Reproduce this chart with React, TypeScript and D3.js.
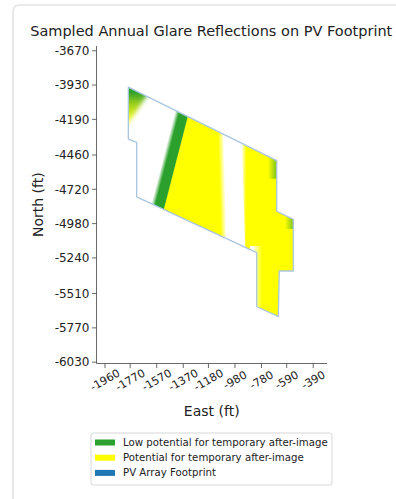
import React from "react";
import * as d3 from "d3";

// ---- Data ----
const E_TICKS = [-1960, -1770, -1570, -1370, -1180, -980, -780, -590, -390];
const N_TICKS = [-3670, -3930, -4190, -4460, -4720, -4980, -5240, -5510, -5770, -6030];

// PV array footprint polygon (East, North in ft)
const FOOT_E = [-1784, -665, -665, -540, -540, -646, -653, -816, -816, -1721, -1721, -1784];
const FOOT_N = [-3946, -4503, -4886, -4948, -5339, -5339, -5683, -5610, -5200, -4777, -4365, -4339];

// Sampled glare bands: north range, east bounds at top & bottom, colour stops
const BAND_NAMES = ["tl-patch", "yellow-1", "green-1", "yellow-2", "white-strip", "green-tint-1", "green-tint-2"];
const BAND_MODE = ["along", "across", "across", "across", "across", "across", "across"];
const BAND_N = [
  [-3930, -4250],
  [-4081, -5141],
  [-4081, -4891],
  [-4346, -5709],
  [-5150, -5720],
  [-4440, -4640],
  [-4870, -5020],
];
const BAND_TOP_E = [
  [-1830, -1590],
  [-1315, -1069],
  [-1418, -1310],
  [-930, -490],
  [-867, -776],
  [-731, -641],
  [-603, -520],
];
const BAND_BOT_E = [
  [-1830, -1805],
  [-1590, -1041],
  [-1692, -1518],
  [-884, -490],
  [-867, -776],
  [-731, -641],
  [-603, -520],
];
const GREEN = "#2ca02c";
const YELLOW = "#ffff00";
const BAND_STOPS: [number, string, number][][] = [
  [[0, GREEN, 1], [0.18, GREEN, 1], [0.45, "#9fd01c", 1], [0.75, "#e6f51a", 1], [1, YELLOW, 0.6]],
  [[0, YELLOW, 1], [0.82, YELLOW, 1], [1, YELLOW, 0]],
  [[0, GREEN, 0], [0.3, GREEN, 1], [0.93, GREEN, 1], [1, GREEN, 0.2]],
  [[0, YELLOW, 0], [0.08, YELLOW, 1], [1, YELLOW, 1]],
  [[0, "#ffffff", 1], [0.3, "#ffffff", 0.9], [1, "#ffffff", 0]],
  [[0, GREEN, 0], [1, GREEN, 0.85]],
  [[0, GREEN, 0], [1, GREEN, 0.8]],
];
const BAND_BLUR = [2.2, 0, 0, 0, 0, 0, 0];

const LEGEND_LABELS = [
  "Low potential for temporary after-image",
  "Potential for temporary after-image",
  "PV Array Footprint",
];
const LEGEND_COLORS = [GREEN, YELLOW, "#1f77b4"];

const TITLE = "Sampled Annual Glare Reflections on PV Footprint";
const X_LABEL = "East (ft)";
const Y_LABEL = "North (ft)";

// ---- Layout ----
const W = 396;
const H = 499;
const LEFT = 96.5;
const RIGHT = 327;
const TOP = 46;
const BOTTOM = 363.5;
const FONT = "DejaVu Sans, sans-serif";
const AXIS = "#444";

export default function App() {
  const x = d3.scaleLinear().domain([-2024, -286]).range([LEFT, RIGHT]);
  const y = d3.scaleLinear().domain([-3634, -6040]).range([TOP, BOTTOM]);

  const footPts: [number, number][] = FOOT_E.map((e, i) => [x(e), y(FOOT_N[i])]);
  const line = d3.line();
  const footPath = line(footPts) + "Z";

  const bands = BAND_NAMES.map((name, i) => {
    const [n1, n2] = BAND_N[i];
    const l1: [number, number] = [x(BAND_TOP_E[i][0]), y(n1)];
    const r1: [number, number] = [x(BAND_TOP_E[i][1]), y(n1)];
    const l2: [number, number] = [x(BAND_BOT_E[i][0]), y(n2)];
    const r2: [number, number] = [x(BAND_BOT_E[i][1]), y(n2)];
    let g;
    if (BAND_MODE[i] === "along") {
      g = { x1: l1[0], y1: l1[1], x2: l2[0], y2: l2[1] };
    } else {
      // gradient perpendicular to the right boundary, starting at the top-left point
      let dx = r2[0] - r1[0];
      let dy = r2[1] - r1[1];
      const len = Math.hypot(dx, dy) || 1;
      dx /= len;
      dy /= len;
      let nx = dy;
      let ny = -dx;
      const vx = r1[0] - l1[0];
      const vy = r1[1] - l1[1];
      let proj = vx * nx + vy * ny;
      if (proj < 0) {
        nx = -nx;
        ny = -ny;
        proj = -proj;
      }
      g = { x1: l1[0], y1: l1[1], x2: l1[0] + nx * proj, y2: l1[1] + ny * proj };
    }
    const path = line([l1, r1, r2, l2]) + "Z";
    return { name, id: `grad-${i}`, g, path, stops: BAND_STOPS[i], blur: BAND_BLUR[i] };
  });

  return (
    <svg
      width={W}
      height={H}
      style={{ position: "fixed", left: 0, top: 0, background: "#fff" }}
      fontFamily={FONT}
    >
      <defs>
        <clipPath id="foot-clip">
          <path d={footPath} />
        </clipPath>
        {bands.map((b) => (
          <linearGradient
            key={b.id}
            id={b.id}
            gradientUnits="userSpaceOnUse"
            x1={b.g.x1}
            y1={b.g.y1}
            x2={b.g.x2}
            y2={b.g.y2}
          >
            {b.stops.map((s, j) => (
              <stop key={j} offset={s[0]} stopColor={s[1]} stopOpacity={s[2]} />
            ))}
          </linearGradient>
        ))}
        {bands
          .filter((b) => b.blur > 0)
          .map((b) => (
            <filter key={b.id} id={`blur-${b.id}`} x="-50%" y="-50%" width="200%" height="200%">
              <feGaussianBlur stdDeviation={b.blur} />
            </filter>
          ))}
      </defs>

      {/* card */}
      <rect x={13} y={5} width={420} height={540} rx={6} fill="#fff" stroke="#e3e3e3" strokeWidth={1.6} />

      {/* title */}
      <text x={(LEFT + RIGHT) / 2 - 0.5} y={36} textAnchor="middle" fontSize={14.5} fill="#222">
        {TITLE}
      </text>

      {/* glare bands */}
      <g clipPath="url(#foot-clip)">
        {bands.map((b) => (
          <path
            key={b.id}
            d={b.path}
            fill={`url(#${b.id})`}
            filter={b.blur > 0 ? `url(#blur-${b.id})` : undefined}
          />
        ))}
      </g>
      <path d={footPath} fill="none" stroke="#a9c6e0" strokeWidth={1.3} strokeLinejoin="round" />

      {/* axes */}
      <line x1={LEFT} x2={LEFT} y1={TOP} y2={BOTTOM} stroke={AXIS} strokeWidth={0.8} />
      <line x1={LEFT} x2={RIGHT} y1={BOTTOM} y2={BOTTOM} stroke={AXIS} strokeWidth={0.8} />
      {N_TICKS.map((t) => (
        <g key={t} transform={`translate(${LEFT},${y(t)})`}>
          <line x1={-4.5} x2={0} stroke={AXIS} strokeWidth={0.8} />
          <text x={-7} dy="0.35em" textAnchor="end" fontSize={12} fill="#222">
            {t}
          </text>
        </g>
      ))}
      {E_TICKS.map((t) => (
        <g key={t} transform={`translate(${x(t)},${BOTTOM})`}>
          <line y1={0} y2={4.5} stroke={AXIS} strokeWidth={0.8} />
          <text
            transform="translate(0,16.5) rotate(-30)"
            textAnchor="middle"
            dy="0.35em"
            fontSize={11}
            fill="#222"
          >
            {t}
          </text>
        </g>
      ))}
      <text x={(LEFT + RIGHT) / 2} y={416} textAnchor="middle" fontSize={14} fill="#222">
        {X_LABEL}
      </text>
      <text
        transform={`translate(43,${(TOP + BOTTOM) / 2}) rotate(-90)`}
        textAnchor="middle"
        fontSize={14}
        fill="#222"
      >
        {Y_LABEL}
      </text>

      {/* legend */}
      <rect x={91} y={433} width={241} height={52} rx={2.5} fill="#fff" stroke="#d6d6d6" strokeWidth={1} />
      {LEGEND_LABELS.map((lab, i) => (
        <g key={lab} transform={`translate(95,${442.5 + i * 15.2})`}>
          <rect x={0} y={-3} width={20} height={6} fill={LEGEND_COLORS[i]} />
          <text x={28} dy="0.35em" fontSize={10.2} fill="#222">
            {lab}
          </text>
        </g>
      ))}
    </svg>
  );
}
